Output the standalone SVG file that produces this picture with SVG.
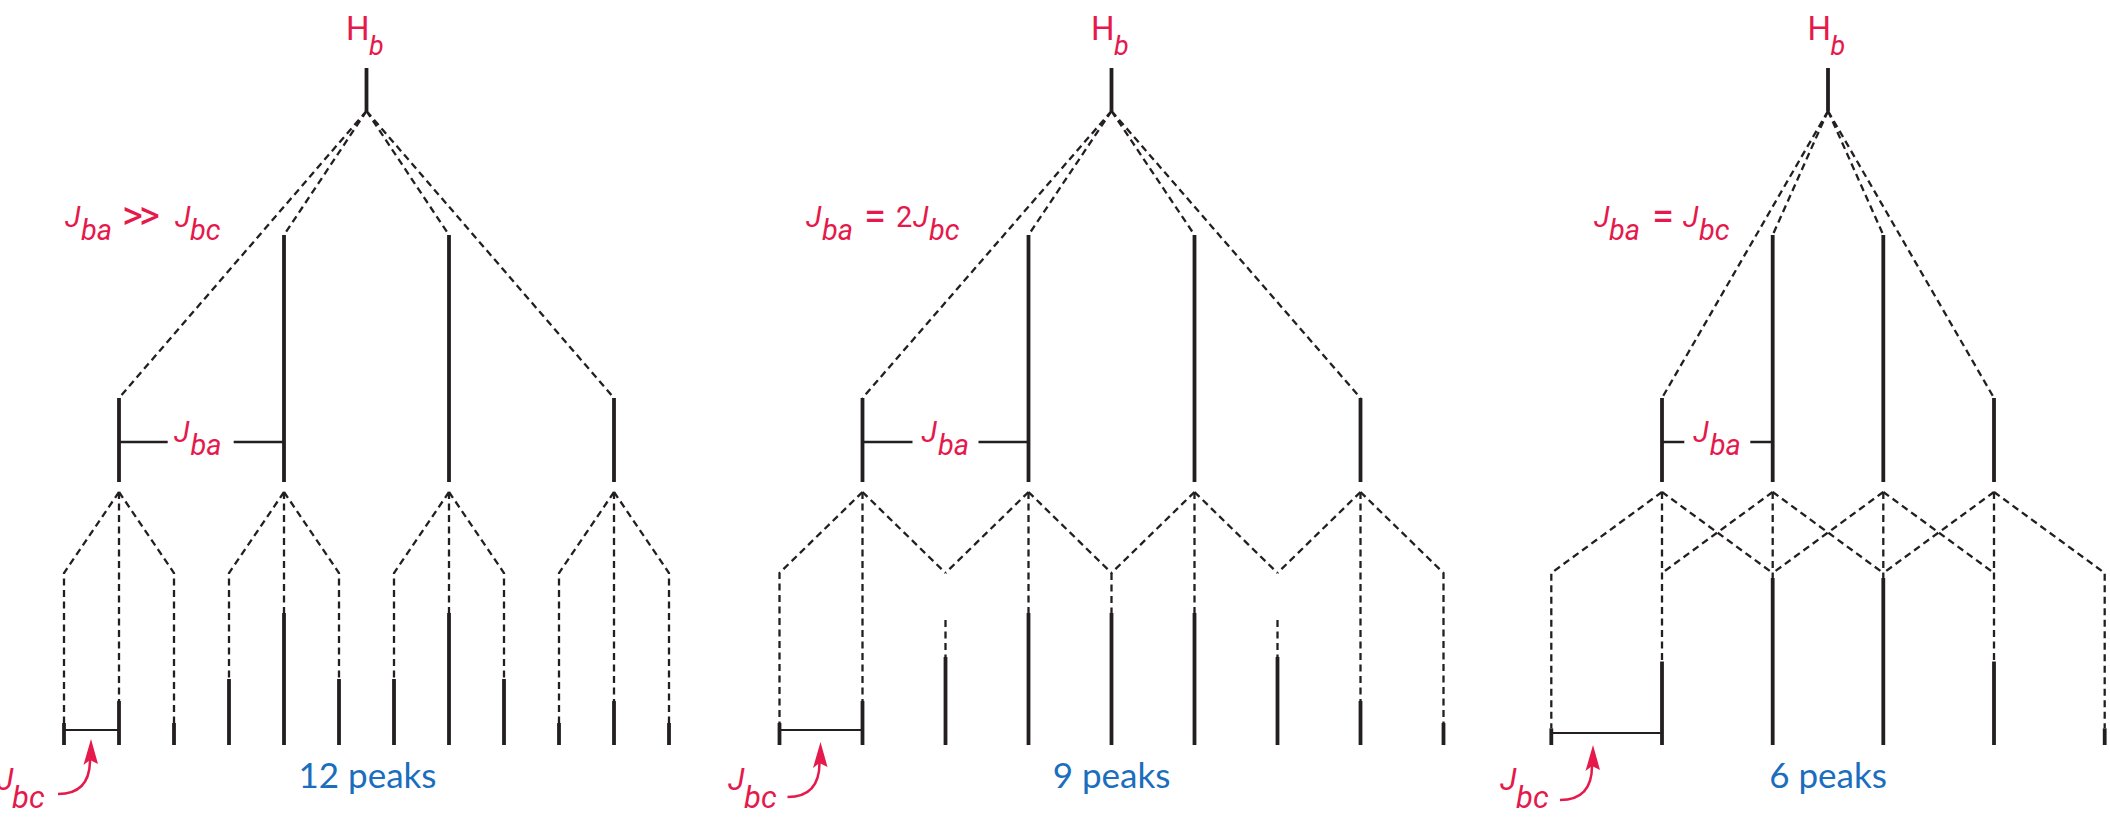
<svg xmlns="http://www.w3.org/2000/svg" width="2110" height="819" viewBox="0 0 2110 819">
<defs>
<style>
.solid{stroke:#231f20;stroke-width:3.8;fill:none}
.dash{stroke:#231f20;stroke-width:2.3;fill:none;stroke-dasharray:7 4.5}
.bar{stroke:#231f20;stroke-width:2.5;fill:none}
.thin{stroke:#231f20;stroke-width:2;fill:none}
.red{fill:#e5194b;font-family:Roboto,"Noto Sans","Liberation Sans",sans-serif}
.it{font-style:italic}
.rm{font-style:normal}
.blue{fill:#1a6ebd;font-family:Lato,"Noto Sans","Liberation Sans",sans-serif;font-size:35px;text-anchor:middle}
.arr path{stroke:#e5194b;stroke-width:2.5;fill:none}
.arr polygon{fill:#e5194b}
</style>
<g id="arrowShape" class="arr">
<path d="M-33,55 C-15,55 -1,47 -1,21"/>
<polygon points="0,0 -7.5,26 -1,21 7,25"/>
</g>
</defs>
<rect width="2110" height="819" fill="#ffffff"/>

<!-- ================= PANEL 1 ================= -->
<g id="panel1">
<g id="p1-connectors">
<line class="dash" x1="366.5" y1="111" x2="119" y2="398"/>
<line class="dash" x1="366.5" y1="111" x2="284" y2="235"/>
<line class="dash" x1="366.5" y1="111" x2="449" y2="235"/>
<line class="dash" x1="366.5" y1="111" x2="614" y2="398"/>
<polyline class="dash" points="119,492 64,573 64,723"/>
<line class="dash" x1="119" y1="492" x2="119" y2="701"/>
<polyline class="dash" points="119,492 174,573 174,723"/>
<polyline class="dash" points="284,492 229,573 229,679"/>
<line class="dash" x1="284" y1="492" x2="284" y2="613"/>
<polyline class="dash" points="284,492 339,573 339,679"/>
<polyline class="dash" points="449,492 394,573 394,679"/>
<line class="dash" x1="449" y1="492" x2="449" y2="613"/>
<polyline class="dash" points="449,492 504,573 504,679"/>
<polyline class="dash" points="614,492 559,573 559,723"/>
<line class="dash" x1="614" y1="492" x2="614" y2="701"/>
<polyline class="dash" points="614,492 669,573 669,723"/>
</g>
<g id="p1-stem"><line class="solid" x1="366.5" y1="68" x2="366.5" y2="111"/></g>
<g id="p1-level1">
<line class="solid" x1="119" y1="398" x2="119" y2="482"/>
<line class="solid" x1="284" y1="235" x2="284" y2="482"/>
<line class="solid" x1="449" y1="235" x2="449" y2="482"/>
<line class="solid" x1="614" y1="398" x2="614" y2="482"/>
</g>
<g id="p1-peaks">
<line class="solid" x1="64" y1="723" x2="64" y2="745"/>
<line class="solid" x1="119" y1="701" x2="119" y2="745"/>
<line class="solid" x1="174" y1="723" x2="174" y2="745"/>
<line class="solid" x1="229" y1="679" x2="229" y2="745"/>
<line class="solid" x1="284" y1="613" x2="284" y2="745"/>
<line class="solid" x1="339" y1="679" x2="339" y2="745"/>
<line class="solid" x1="394" y1="679" x2="394" y2="745"/>
<line class="solid" x1="449" y1="613" x2="449" y2="745"/>
<line class="solid" x1="504" y1="679" x2="504" y2="745"/>
<line class="solid" x1="559" y1="723" x2="559" y2="745"/>
<line class="solid" x1="614" y1="701" x2="614" y2="745"/>
<line class="solid" x1="669" y1="723" x2="669" y2="745"/>
</g>
<g id="p1-labels">
<text class="red" font-size="33"><tspan x="346" y="40">H</tspan><tspan class="it" x="369" y="55" font-size="27">b</tspan></text>
<text class="red it" font-size="29"><tspan x="65" y="227">J</tspan><tspan x="81" y="240">ba</tspan><tspan class="rm" x="122" y="229" font-size="40" letter-spacing="-4">&gt;&gt;</tspan><tspan x="175" y="227">J</tspan><tspan x="190" y="240">bc</tspan></text>
<line class="bar" x1="119" y1="442" x2="167.7" y2="442"/>
<line class="bar" x1="233.7" y1="442" x2="284" y2="442"/>
<text class="red it" font-size="29"><tspan x="174" y="442">J</tspan><tspan x="190.5" y="455">ba</tspan></text>
<line class="thin" x1="64" y1="730" x2="119" y2="730"/>
<use href="#arrowShape" transform="translate(91,739)"/>
<text class="red it" font-size="31"><tspan x="-3" y="790">J</tspan><tspan x="12" y="808">bc</tspan></text>
<text class="blue" x="367.5" y="788">12 peaks</text>
</g>
</g>

<!-- ================= PANEL 2 ================= -->
<g id="panel2">
<g id="p2-connectors">
<line class="dash" x1="1111.5" y1="111" x2="862.5" y2="398"/>
<line class="dash" x1="1111.5" y1="111" x2="1028.5" y2="235"/>
<line class="dash" x1="1111.5" y1="111" x2="1194.5" y2="235"/>
<line class="dash" x1="1111.5" y1="111" x2="1360.5" y2="398"/>
<polyline class="dash" points="862.5,492 779.5,573 779.5,723"/>
<line class="dash" x1="862.5" y1="492" x2="945.5" y2="573"/>
<line class="dash" x1="1028.5" y1="492" x2="945.5" y2="573"/>
<line class="dash" x1="1028.5" y1="492" x2="1111.5" y2="573"/>
<line class="dash" x1="1194.5" y1="492" x2="1111.5" y2="573"/>
<line class="dash" x1="1194.5" y1="492" x2="1277.5" y2="573"/>
<line class="dash" x1="1360.5" y1="492" x2="1277.5" y2="573"/>
<polyline class="dash" points="1360.5,492 1443.5,573 1443.5,723"/>
<line class="dash" x1="862.5" y1="492" x2="862.5" y2="701"/>
<line class="dash" x1="1028.5" y1="492" x2="1028.5" y2="613"/>
<line class="dash" x1="1194.5" y1="492" x2="1194.5" y2="613"/>
<line class="dash" x1="1360.5" y1="492" x2="1360.5" y2="701"/>
<line class="dash" x1="945.5" y1="620" x2="945.5" y2="657"/>
<line class="dash" x1="1111.5" y1="573" x2="1111.5" y2="613"/>
<line class="dash" x1="1277.5" y1="620" x2="1277.5" y2="657"/>
</g>
<g id="p2-stem"><line class="solid" x1="1111.5" y1="68" x2="1111.5" y2="111"/></g>
<g id="p2-level1">
<line class="solid" x1="862.5" y1="398" x2="862.5" y2="482"/>
<line class="solid" x1="1028.5" y1="235" x2="1028.5" y2="482"/>
<line class="solid" x1="1194.5" y1="235" x2="1194.5" y2="482"/>
<line class="solid" x1="1360.5" y1="398" x2="1360.5" y2="482"/>
</g>
<g id="p2-peaks">
<line class="solid" x1="779.5" y1="723" x2="779.5" y2="745"/>
<line class="solid" x1="862.5" y1="701" x2="862.5" y2="745"/>
<line class="solid" x1="945.5" y1="657" x2="945.5" y2="745"/>
<line class="solid" x1="1028.5" y1="613" x2="1028.5" y2="745"/>
<line class="solid" x1="1111.5" y1="613" x2="1111.5" y2="745"/>
<line class="solid" x1="1194.5" y1="613" x2="1194.5" y2="745"/>
<line class="solid" x1="1277.5" y1="657" x2="1277.5" y2="745"/>
<line class="solid" x1="1360.5" y1="701" x2="1360.5" y2="745"/>
<line class="solid" x1="1443.5" y1="723" x2="1443.5" y2="745"/>
</g>
<g id="p2-labels">
<text class="red" font-size="33"><tspan x="1091" y="40">H</tspan><tspan class="it" x="1114" y="55" font-size="27">b</tspan></text>
<text class="red it" font-size="29"><tspan x="806" y="227">J</tspan><tspan x="822" y="240">ba</tspan><tspan class="rm" x="864" y="230" font-size="40">=</tspan><tspan class="rm" x="896" y="227" font-size="29">2</tspan><tspan x="913" y="227">J</tspan><tspan x="929" y="240">bc</tspan></text>
<line class="bar" x1="862.5" y1="442" x2="912.5" y2="442"/>
<line class="bar" x1="978.5" y1="442" x2="1028.5" y2="442"/>
<text class="red it" font-size="29"><tspan x="921.5" y="442">J</tspan><tspan x="938" y="455">ba</tspan></text>
<line class="thin" x1="779.5" y1="730" x2="862.5" y2="730"/>
<use href="#arrowShape" transform="translate(820.5,742)"/>
<text class="red it" font-size="31"><tspan x="728" y="790">J</tspan><tspan x="744" y="808">bc</tspan></text>
<text class="blue" x="1111.5" y="788">9 peaks</text>
</g>
</g>

<!-- ================= PANEL 3 ================= -->
<g id="panel3">
<g id="p3-connectors">
<line class="dash" x1="1828" y1="111" x2="1662" y2="398"/>
<line class="dash" x1="1828" y1="111" x2="1772.7" y2="235"/>
<line class="dash" x1="1828" y1="111" x2="1883.3" y2="235"/>
<line class="dash" x1="1828" y1="111" x2="1994" y2="398"/>
<polyline class="dash" points="1662,492 1551.3,573 1551.3,728.3"/>
<line class="dash" x1="1662" y1="492" x2="1772.7" y2="573"/>
<line class="dash" x1="1772.7" y1="492" x2="1662" y2="573"/>
<line class="dash" x1="1772.7" y1="492" x2="1883.3" y2="573"/>
<line class="dash" x1="1883.3" y1="492" x2="1772.7" y2="573"/>
<line class="dash" x1="1883.3" y1="492" x2="1994" y2="573"/>
<line class="dash" x1="1994" y1="492" x2="1883.3" y2="573"/>
<polyline class="dash" points="1994,492 2104.7,573 2104.7,728.3"/>
<line class="dash" x1="1662" y1="492" x2="1662" y2="661.5"/>
<line class="dash" x1="1772.7" y1="492" x2="1772.7" y2="578"/>
<line class="dash" x1="1883.3" y1="492" x2="1883.3" y2="578"/>
<line class="dash" x1="1994" y1="492" x2="1994" y2="661.5"/>
</g>
<g id="p3-stem"><line class="solid" x1="1828" y1="68" x2="1828" y2="111"/></g>
<g id="p3-level1">
<line class="solid" x1="1662" y1="398" x2="1662" y2="482"/>
<line class="solid" x1="1772.7" y1="235" x2="1772.7" y2="482"/>
<line class="solid" x1="1883.3" y1="235" x2="1883.3" y2="482"/>
<line class="solid" x1="1994" y1="398" x2="1994" y2="482"/>
</g>
<g id="p3-peaks">
<line class="solid" x1="1551.3" y1="728.3" x2="1551.3" y2="745"/>
<line class="solid" x1="1662" y1="661.5" x2="1662" y2="745"/>
<line class="solid" x1="1772.7" y1="578" x2="1772.7" y2="745"/>
<line class="solid" x1="1883.3" y1="578" x2="1883.3" y2="745"/>
<line class="solid" x1="1994" y1="661.5" x2="1994" y2="745"/>
<line class="solid" x1="2104.7" y1="728.3" x2="2104.7" y2="745"/>
</g>
<g id="p3-labels">
<text class="red" font-size="33"><tspan x="1807.5" y="40">H</tspan><tspan class="it" x="1830.5" y="55" font-size="27">b</tspan></text>
<text class="red it" font-size="29"><tspan x="1594" y="227">J</tspan><tspan x="1609" y="240">ba</tspan><tspan class="rm" x="1652" y="230" font-size="40">=</tspan><tspan x="1683" y="227">J</tspan><tspan x="1699" y="240">bc</tspan></text>
<line class="bar" x1="1662" y1="442" x2="1684.3" y2="442"/>
<line class="bar" x1="1750.3" y1="442" x2="1772.7" y2="442"/>
<text class="red it" font-size="29"><tspan x="1693.3" y="442">J</tspan><tspan x="1709.8" y="455">ba</tspan></text>
<line class="thin" x1="1551.3" y1="733" x2="1662" y2="733"/>
<use href="#arrowShape" transform="translate(1593,745)"/>
<text class="red it" font-size="31"><tspan x="1500" y="790">J</tspan><tspan x="1516" y="808">bc</tspan></text>
<text class="blue" x="1828" y="788">6 peaks</text>
</g>
</g>
</svg>
